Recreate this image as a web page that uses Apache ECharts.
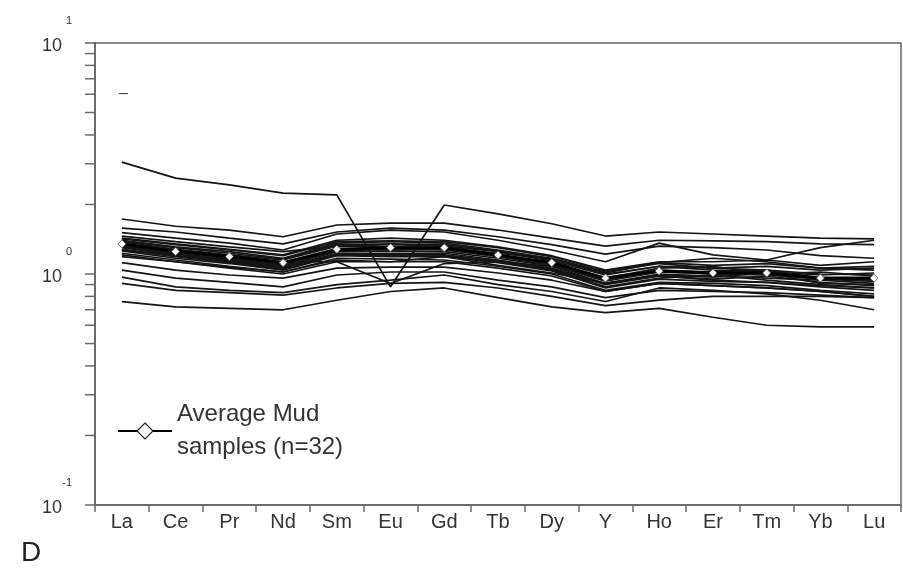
<!DOCTYPE html>
<html>
<head>
<meta charset="utf-8">
<script src="https://cdn.jsdelivr.net/npm/echarts@6/dist/echarts.min.js"></script>
<style>
  html, body { margin: 0; padding: 0; background: #fff; }
  #chart { width: 903px; height: 569px; }
</style>
</head>
<body>
<div id="chart"></div>
<script>
// ---------- data ----------
const CATEGORIES = ['La','Ce','Pr','Nd','Sm','Eu','Gd','Tb','Dy','Y','Ho','Er','Tm','Yb','Lu'];

const AVERAGE = [1.35,1.25,1.19,1.12,1.28,1.30,1.30,1.21,1.12,0.96,1.03,1.01,1.01,0.96,0.96];

const sample01 = [3.05,2.60,2.43,2.24,2.20,0.88,1.99,1.82,1.65,1.46,1.52,1.49,1.46,1.43,1.42];
const sample02 = [1.73,1.61,1.55,1.45,1.63,1.66,1.66,1.55,1.43,1.32,1.40,1.39,1.38,1.35,1.34];
const sample03 = [1.58,1.52,1.43,1.35,1.52,1.58,1.55,1.45,1.34,1.22,1.32,1.30,1.27,1.20,1.17];
const sample04 = [1.51,1.43,1.36,1.27,1.49,1.55,1.52,1.40,1.27,1.13,1.36,1.21,1.15,1.30,1.40];
const sample05 = [1.43,1.35,1.28,1.21,1.40,1.43,1.40,1.31,1.20,1.04,1.13,1.13,1.15,1.09,1.13];
const sample06 = [1.40,1.31,1.25,1.17,1.36,1.38,1.36,1.27,1.17,1.02,1.11,1.06,1.08,1.04,1.06];
const sample07 = [1.38,1.28,1.21,1.15,1.32,1.34,1.32,1.25,1.14,0.99,1.08,1.04,1.02,0.99,1.01];
const sample08 = [1.34,1.25,1.17,1.10,1.27,1.30,1.28,1.20,1.10,0.94,1.04,1.02,1.04,0.96,0.94];
const sample09 = [1.31,1.22,1.15,1.08,1.25,1.26,1.25,1.17,1.08,0.91,1.00,0.98,0.96,0.94,0.91];
const sample10 = [1.28,1.20,1.13,1.06,1.22,1.22,1.21,1.14,1.05,0.90,0.98,0.95,0.98,0.92,0.89];
const sample11 = [1.36,1.27,1.20,1.13,1.13,0.91,1.11,1.13,1.08,0.96,1.06,1.08,1.00,1.02,0.98];
const sample12 = [1.26,1.17,1.11,1.04,1.20,1.19,1.19,1.12,1.03,0.87,0.95,0.93,0.92,0.88,0.85];
const sample13 = [1.23,1.15,1.08,1.02,1.17,1.16,1.15,1.08,1.00,0.85,0.92,0.91,0.89,0.85,0.82];
const sample14 = [1.46,1.38,1.31,1.25,1.32,1.31,1.30,1.23,1.16,1.01,1.12,1.17,1.13,1.06,1.04];
const sample15 = [1.32,1.23,1.16,1.09,1.26,1.28,1.27,1.19,1.09,0.93,1.02,1.00,0.99,0.95,0.93];
const sample16 = [1.30,1.21,1.14,1.07,1.23,1.23,1.23,1.15,1.06,0.91,0.99,0.97,1.01,0.91,0.90];
const sample17 = [1.39,1.30,1.23,1.16,1.34,1.35,1.34,1.26,1.16,1.00,1.08,1.06,1.04,1.00,0.99];
const sample18 = [1.27,1.19,1.12,1.05,1.21,1.20,1.20,1.13,1.04,0.88,0.96,0.99,0.94,0.90,0.87];
const sample19 = [1.21,1.13,1.06,1.00,1.13,1.13,1.13,1.06,0.98,0.84,0.91,0.89,0.87,0.84,0.80];
const sample20 = [1.42,1.34,1.27,1.20,1.38,1.39,1.38,1.30,1.19,1.03,1.12,1.09,1.11,1.06,1.08];
const sample21 = [1.19,1.13,1.07,1.02,1.15,1.13,1.19,1.09,1.01,0.91,0.98,0.94,0.92,0.89,0.87];
const sample22 = [1.12,1.04,0.99,0.96,1.06,1.07,1.07,1.01,0.94,0.84,0.91,0.89,0.87,0.84,0.80];
const sample23 = [1.04,0.96,0.92,0.88,0.99,1.02,1.02,0.94,0.88,0.79,0.85,0.84,0.83,0.81,0.79];
const sample24 = [0.97,0.88,0.85,0.83,0.90,0.94,0.99,0.90,0.84,0.76,0.87,0.85,0.82,0.77,0.70];
const sample25 = [0.91,0.85,0.83,0.81,0.87,0.91,0.92,0.87,0.80,0.73,0.77,0.80,0.80,0.80,0.79];
const sample26 = [0.76,0.72,0.71,0.70,0.77,0.84,0.87,0.79,0.72,0.68,0.71,0.65,0.60,0.59,0.59];

const SAMPLES = [sample01,sample02,sample03,sample04,sample05,sample06,sample07,sample08,sample09,
  sample10,sample11,sample12,sample13,sample14,sample15,sample16,sample17,sample18,sample19,
  sample20,sample21,sample22,sample23,sample24,sample25,sample26];

const Y_MAJOR_TICKS = [0.1, 1, 10];
const Y_MINOR_TICKS = [0.2,0.3,0.4,0.5,0.6,0.7,0.8,0.9,2,3,4,5,6,7,8,9];

const LEGEND_NAME = 'Average Mud\nsamples (n=32)';
const PANEL_LABEL = 'D';

// ---------- chart ----------
const FONT = '"Liberation Sans", Arial, Helvetica, sans-serif';
const chart = echarts.init(document.getElementById('chart'), null, { renderer: 'canvas' });

const series = SAMPLES.map((s, i) => ({
  name: 'sample' + (i + 1),
  type: 'line',
  data: s,
  symbol: 'none',
  silent: true,
  lineStyle: { color: '#151515', width: 1.7 },
  z: 2
}));

series.push({
  name: LEGEND_NAME,
  type: 'line',
  data: AVERAGE,
  symbol: 'diamond',
  symbolSize: 8,
  itemStyle: { color: '#ffffff', borderColor: '#555', borderWidth: 0.8 },
  lineStyle: { color: '#000', width: 3 },
  z: 5
});

series.push({
  name: 'minorTicks',
  type: 'custom',
  silent: true,
  clip: false,
  data: Y_MINOR_TICKS.map(v => [0, v]),
  renderItem: function (params, api) {
    const p = api.coord([0, api.value(1)]);
    const x0 = params.coordSys.x;
    return {
      type: 'line',
      shape: { x1: x0 - 10, y1: p[1], x2: x0, y2: p[1] },
      style: { stroke: '#6a6a6a', lineWidth: 1.5 }
    };
  },
  z: 6
});

const option = {
  animation: false,
  backgroundColor: '#fff',
  title: {
    text: PANEL_LABEL,
    left: 16,
    top: 534,
    textStyle: { fontFamily: FONT, fontSize: 28, fontWeight: 'normal', color: '#222' }
  },
  grid: {
    left: 95, top: 43, width: 806, height: 462,
    show: true, borderColor: '#666', borderWidth: 1.5, backgroundColor: 'transparent'
  },
  legend: {
    data: [LEGEND_NAME],
    left: 112,
    top: 393,
    itemWidth: 54,
    itemHeight: 20,
    itemGap: 6,
    selectedMode: false,
    itemStyle: { borderColor: '#222', borderWidth: 1.2 },
    textStyle: { fontFamily: FONT, fontSize: 24, lineHeight: 33, color: '#333' }
  },
  xAxis: {
    type: 'category',
    data: CATEGORIES,
    boundaryGap: true,
    axisLine: { show: true, lineStyle: { color: '#6a6a6a', width: 2 } },
    axisTick: { show: true, length: 7, lineStyle: { color: '#6a6a6a', width: 1.5 } },
    axisLabel: { margin: 7, fontFamily: FONT, fontSize: 20, color: '#333' },
    splitLine: { show: false }
  },
  yAxis: {
    type: 'log',
    logBase: 10,
    min: Y_MAJOR_TICKS[0],
    max: Y_MAJOR_TICKS[Y_MAJOR_TICKS.length - 1],
    axisLine: { show: true, lineStyle: { color: '#6a6a6a', width: 2 } },
    axisTick: { show: true, length: 10, lineStyle: { color: '#6a6a6a', width: 1.5 } },
    splitLine: { show: false },
    axisLabel: {
      margin: 23,
      align: 'right',
      formatter: function (v) {
        const e = Math.round(Math.log10(v));
        return '{e|' + e + '}\n{b|10}{sp|}';
      },
      rich: {
        e: { fontFamily: FONT, fontSize: 11, lineHeight: 6, color: '#333' },
        b: { fontFamily: FONT, fontSize: 18, lineHeight: 45, color: '#333' },
        sp: { width: 10, lineHeight: 45 }
      }
    }
  },
  graphic: [
    { type: 'text', left: 119, top: 86, style: { text: '–', fontFamily: FONT, fontSize: 16, fill: '#444' } }
  ],
  series: series
};

chart.setOption(option);
</script>
</body>
</html>
